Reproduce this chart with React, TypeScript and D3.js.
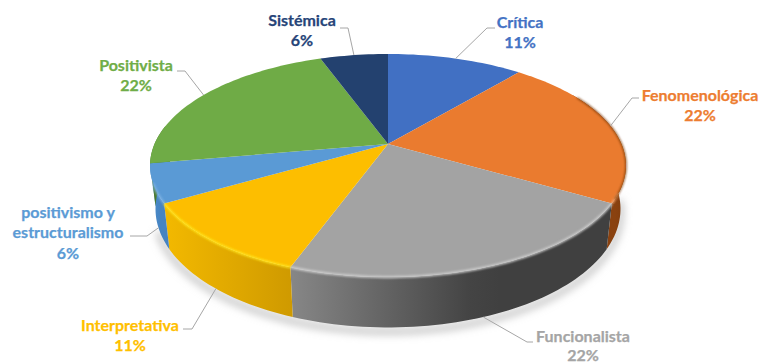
import React from "react";
import * as d3 from "d3";

// Schools of thought, in clockwise order from twelve o'clock.
const categories = ["Crítica", "Fenomenológica", "Funcionalista", "Interpretativa", "positivismo y estructuralismo", "Positivista", "Sistémica"];
const counts = [2, 4, 4, 2, 1, 4, 1];
const percentLabels = ["11%", "22%", "22%", "11%", "6%", "22%", "6%"];
const faceColors = ["#4170c3", "#ea7b2f", "#a3a3a3", "#fdbe00", "#5a9ad5", "#6fab46", "#23416f"];
const labelColors = ["#4472c4", "#ed7d31", "#a5a5a5", "#ffc000", "#5b9bd5", "#70ad47", "#264478"];
const lipColors = ["#6f93d6", "#f5a36a", "#cfcfcf", "#ffe41e", "#7fb4e4", "#94c86e", "#3a5a8f"];
// Wall shading of each slice: colours running from the right of the cylinder to the left.
const sideStops = [
  ["#2c4c85", "#2c4c85", "#2c4c85"],
  ["#7a3a0c", "#8a4210", "#8a4210"],
  ["#404040", "#444444", "#868686"],
  ["#cf9a00", "#cf9a00", "#f2b800"],
  ["#4684c2", "#4684c2", "#4c8ecc"],
  ["#4b7a2c", "#4b7a2c", "#4b7a2c"],
  ["#1a3055", "#1a3055", "#1a3055"],
];
// Horizontal extent of the shading for each slice's wall: right, middle and left stops.
const sideSpans = [
  [600, 400, 200],
  [630, 615, 600],
  [500, 470, 293],
  [293, 292, 168],
  [170, 160, 150],
  [200, 180, 150],
  [400, 350, 300],
];

// Label placement: centre x, first-line centre y, line step, leader elbow and joint.
const labelLayout = [
  { x: 520, y: 22, step: 20.8, lines: ["Crítica"], elbow: [495, 28], knee: [487, 28], edge: "top" },
  { x: 700, y: 95, step: 20.8, lines: ["Fenomenológica"], elbow: [639, 98], knee: [632, 98], edge: "top" },
  { x: 583, y: 336, step: 19.5, lines: ["Funcionalista"], elbow: [533, 342], knee: [527, 342], edge: "bottom" },
  { x: 130, y: 325, step: 20.8, lines: ["Interpretativa"], elbow: [183, 329], knee: [192, 329], edge: "bottom" },
  { x: 68, y: 212, step: 20.8, lines: ["positivismo y", "estructuralismo"], elbow: [130, 236], knee: [147, 236], edge: "bottom" },
  { x: 136, y: 65, step: 20.8, lines: ["Positivista"], elbow: [177, 71], knee: [185, 71], edge: "top" },
  { x: 302, y: 20, step: 20.8, lines: ["Sistémica"], elbow: [340, 28], knee: [348, 28], edge: "top" },
];

// Tilted-disc projection: the far rim shrinks and the near rim grows.
const APEX: [number, number] = [388, 144];
const RX = 233.5;
const RY = 107.4;
const K = 0.193;

function topPoint(a: number): [number, number] {
  const u = Math.sin(a);
  const v = Math.cos(a);
  const s = 1 / (1 + K * v);
  return [APEX[0] + RX * u * s, APEX[1] - RY * v * s];
}

// The lower rim of the cylinder, slightly narrower and stretched downwards.
function bottomPoint(a: number): [number, number] {
  const [x, y] = topPoint(a);
  return [APEX[0] + 0.977 * (x - APEX[0]), 186 + 1.063 * (y - APEX[1])];
}

const deg = (d: number) => (d * Math.PI) / 180;

const pieLayout = d3.pie<number>().sort(null).value((d) => d);
const arcs = pieLayout(counts);
const path = d3.line();

function arcSamples(a0: number, a1: number): number[] {
  const n = Math.max(2, Math.ceil((a1 - a0) / deg(1.5)));
  return d3.range(n + 1).map((i) => a0 + ((a1 - a0) * i) / n);
}

export default function App() {
  const font = "Lato, 'Open Sans', sans-serif";
  return (
    <svg width={761} height={364} style={{ position: "absolute", left: 0, top: 0, background: "#fff" }}>
      <defs>
        <filter id="soft" x="-20%" y="-20%" width="140%" height="140%">
          <feGaussianBlur stdDeviation="4" />
        </filter>
        <filter id="lip" x="-5%" y="-5%" width="110%" height="110%">
          <feGaussianBlur stdDeviation="0.9" />
        </filter>
        {arcs.map((_, i) => (
          <linearGradient
            key={i}
            id={`side${i}`}
            gradientUnits="userSpaceOnUse"
            x1={sideSpans[i][0]}
            x2={sideSpans[i][2]}
            y1={0}
            y2={0}
          >
            <stop offset="0" stopColor={sideStops[i][0]} />
            <stop
              offset={(sideSpans[i][0] - sideSpans[i][1]) / (sideSpans[i][0] - sideSpans[i][2])}
              stopColor={sideStops[i][1]}
            />
            <stop offset="1" stopColor={sideStops[i][2]} />
          </linearGradient>
        ))}
      </defs>

      {/* soft shadow under the cylinder */}
      <path
        d={path(arcSamples(deg(95), deg(250)).map((a) => {
          const [x, y] = bottomPoint(a);
          return [x, y + 4] as [number, number];
        })) ?? ""}
        fill="none"
        stroke="#b4b4b4"
        strokeWidth={5}
        filter="url(#soft)"
      />

      {/* visible wall of each slice */}
      {arcs.map((d, i) => {
        const a0 = Math.max(d.startAngle, deg(60));
        const a1 = Math.min(d.endAngle, deg(280));
        if (a1 <= a0) return null;
        const angles = arcSamples(a0, a1);
        const pts = [...angles.map(topPoint), ...angles.slice().reverse().map(bottomPoint)];
        return <path key={i} d={`${path(pts)}Z`} fill={`url(#side${i})`} />;
      })}

      {/* top faces */}
      {arcs.map((d, i) => {
        const pts = [APEX, ...arcSamples(d.startAngle, d.endAngle).map(topPoint)];
        return <path key={i} d={`${path(pts)}Z`} fill={faceColors[i]} />;
      })}

      {/* bevel highlight on the near rim, fading into the wall */}
      {arcs.map((d, i) => {
        const a0 = Math.max(d.startAngle, deg(115));
        const a1 = Math.min(d.endAngle, deg(250));
        if (a1 <= a0) return null;
        const pts = arcSamples(a0, a1).map(topPoint);
        return <path key={i} d={path(pts) ?? ""} fill="none" stroke={lipColors[i]} strokeWidth={2.2} filter="url(#lip)" />;
      })}

      {/* dark rim along the right shoulder of the disc */}
      <path
        d={path(arcSamples(deg(62), deg(118)).map(topPoint)) ?? ""}
        fill="none"
        stroke={sideStops[1][0]}
        strokeWidth={1.4}
        filter="url(#lip)"
      />

      {/* leaders: the anchor sits on the rim at each slice's mid-angle */}
      {arcs.map((d, i) => {
        const mid = (d.startAngle + d.endAngle) / 2;
        const l = labelLayout[i];
        const anchor = l.edge === "top" ? topPoint(mid) : bottomPoint(mid);
        return (
          <path
            key={i}
            d={path([l.elbow as [number, number], l.knee as [number, number], anchor]) ?? ""}
            fill="none"
            stroke="#a6a6a6"
            strokeWidth={1}
          />
        );
      })}

      {/* data labels */}
      {arcs.map((d, i) => {
        const l = labelLayout[i];
        const rows = [...l.lines, percentLabels[i]];
        return (
          <text
            key={i}
            fontFamily={font}
            fontWeight={700}
            fontSize={16}
            fill={labelColors[i]}
            stroke={labelColors[i]}
            strokeWidth={0.25}
            textAnchor="middle"
          >
            {rows.map((t, j) => (
              <tspan key={j} x={l.x} y={l.y + j * l.step} dy="0.35em">
                {t}
              </tspan>
            ))}
          </text>
        );
      })}
    </svg>
  );
}
